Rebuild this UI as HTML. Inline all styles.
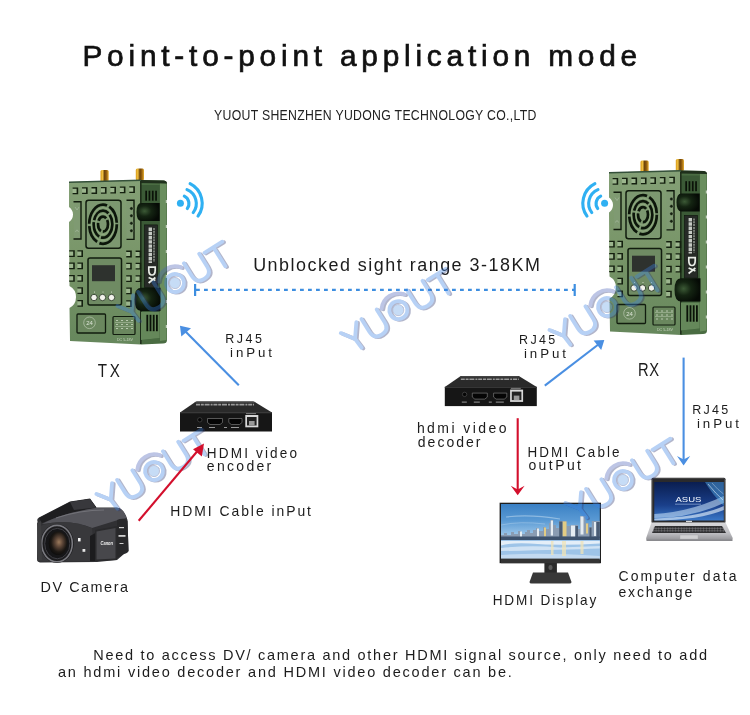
<!DOCTYPE html>
<html><head><meta charset="utf-8">
<style>
html,body{margin:0;padding:0;background:#fff;width:750px;height:715px;overflow:hidden}
svg{display:block;will-change:transform}
text{font-family:"Liberation Sans",sans-serif;fill:#1c1c1c}
</style></head>
<body>
<svg width="750" height="715" viewBox="0 0 750 715">
<defs>
<linearGradient id="camBody" x1="0" y1="0" x2="0" y2="1">
  <stop offset="0" stop-color="#5a5a5e"/><stop offset="0.35" stop-color="#3c3c40"/><stop offset="1" stop-color="#1e1e20"/>
</linearGradient>
<radialGradient id="lensG" cx="0.55" cy="0.45" r="0.6">
  <stop offset="0" stop-color="#9c7a5c"/><stop offset="0.35" stop-color="#5a4436"/><stop offset="0.7" stop-color="#1c1814"/><stop offset="1" stop-color="#0a0a0a"/>
</radialGradient>
<linearGradient id="scrSky" x1="0" y1="0" x2="0" y2="1">
  <stop offset="0" stop-color="#3a80c4"/><stop offset="0.3" stop-color="#5a9ad4"/><stop offset="0.55" stop-color="#98c4e8"/><stop offset="1" stop-color="#b0d4ee"/>
</linearGradient>
<linearGradient id="lapScr" x1="0" y1="0" x2="0" y2="1">
  <stop offset="0" stop-color="#0a1e50"/><stop offset="0.6" stop-color="#1a3f8a"/><stop offset="1" stop-color="#3a78c8"/>
</linearGradient>
<linearGradient id="lapBase" x1="0" y1="0" x2="0" y2="1">
  <stop offset="0" stop-color="#d8d8da"/><stop offset="0.6" stop-color="#bcbcc0"/><stop offset="1" stop-color="#8e8e92"/>
</linearGradient>

<g id="wmk" fill="none" stroke-linecap="round" stroke-linejoin="round" opacity="0.36">
  <g transform="translate(1.1,1.5)" stroke="#2c3670" stroke-width="3.8">
    <path id="wl" d="M-61,-11 L-52,1.5 L-42,-12 M-52,1.5 L-51,12.5 M-36,-12 L-36,3 Q-36,12 -27,12 Q-18,12 -18,3 L-18,-12 M18,-12 L18,3 Q18,12 27,12 Q36,12 36,3 L36,-12 M41,-10 L62,-10 M51.5,-10 L51.5,12.5"/>
    <circle cx="0" cy="0" r="9"/>
    <path d="M-13.5,-10 A17,17 0 0 1 13.5,-10"/>
  </g>
  <g stroke="#3a82e6" stroke-width="3.8">
    <path d="M-61,-11 L-52,1.5 L-42,-12 M-52,1.5 L-51,12.5 M-36,-12 L-36,3 Q-36,12 -27,12 Q-18,12 -18,3 L-18,-12 M18,-12 L18,3 Q18,12 27,12 Q36,12 36,3 L36,-12 M41,-10 L62,-10 M51.5,-10 L51.5,12.5"/>
    <circle cx="0" cy="0" r="9"/>
    <path d="M-13.5,-10 A17,17 0 0 1 13.5,-10" stroke="#4a62b8"/>
  </g>
  <circle cx="0" cy="0" r="5.6" fill="#64a0e8" stroke="#3a4a88" stroke-width="0.8"/>
</g>
<linearGradient id="faceG" x1="0" y1="0" x2="0" y2="1">
  <stop offset="0" stop-color="#84a076"/><stop offset="0.5" stop-color="#789568"/><stop offset="1" stop-color="#66875c"/>
</linearGradient>
<radialGradient id="cylG" cx="0.35" cy="0.45" r="0.65">
  <stop offset="0" stop-color="#3c5a36"/><stop offset="0.45" stop-color="#142412"/><stop offset="1" stop-color="#050a05"/>
</radialGradient>
<g id="slot"><rect x="0" y="0.6" width="5" height="5.6" fill="#9cb68e"/><path d="M0,0 H5.6 V6.8 H0 V5.5 H4 V1.3 H0 Z" fill="#14200f"/></g>
<linearGradient id="antG" x1="0" y1="0" x2="1" y2="0">
  <stop offset="0" stop-color="#d89a18"/><stop offset="0.25" stop-color="#f0c040"/><stop offset="0.5" stop-color="#6a4008"/><stop offset="0.75" stop-color="#9a6410"/><stop offset="1" stop-color="#e8b030"/>
</linearGradient>
</defs>
<rect width="750" height="715" fill="#fff"/>

<g id="dev">
  <!-- antennas -->
  <rect x="100.5" y="170" width="8.2" height="12" rx="1.5" fill="url(#antG)"/>
  <rect x="135.8" y="168.6" width="8.2" height="12" rx="1.5" fill="url(#antG)"/>
  <!-- side body -->
  <path d="M140,180 L164,180.5 Q167,181 167,184 L167,340 Q167,343.5 163,343.5 L141,344.5 Z" fill="#4a6c42"/>
  <path d="M141,185 L159.7,185 L159.7,338 L141,340 Z" fill="#3b5a36"/>
  <path d="M160,183 L166.5,183.5 L166.5,340 L160,341 Z" fill="#6a8e5e"/>
  <g fill="#dfe8da" opacity="0.8"><rect x="165.8" y="200" width="1.2" height="3"/><rect x="165.8" y="225" width="1.2" height="3"/><rect x="165.8" y="250" width="1.2" height="3"/><rect x="165.8" y="275" width="1.2" height="3"/><rect x="165.8" y="300" width="1.2" height="3"/><rect x="165.8" y="325" width="1.2" height="3"/></g>
  <path d="M140,180 L164,180.5 Q167,181 167,183.5 L140,183 Z" fill="#1f301c"/>
  <!-- front face with notches -->
  <path d="M69,182 L141,180 L141,344.5 L70,341 L69.5,308 Q76,304.5 76,297 Q76,289.5 69.5,286 L69,222 Q73,219 73,214.5 Q73,210 69,207 Z" fill="url(#faceG)"/>
  <path d="M69,181.5 L141,179.5 L141,181 L69,183 Z" fill="#34503a"/>
  <rect x="140" y="181" width="1.6" height="163" fill="#1e2e1a"/>
  <!-- top slots -->
  <use href="#slot" x="72.60" y="187.50"/><use href="#slot" x="82.05" y="187.30"/><use href="#slot" x="91.50" y="187.10"/><use href="#slot" x="100.95" y="186.90"/><use href="#slot" x="110.40" y="186.70"/><use href="#slot" x="119.85" y="186.50"/><use href="#slot" x="129.30" y="186.30"/>
  <!-- left small panel -->
  <rect x="74" y="201.2" width="7.5" height="38.4" fill="#7f9a72"/><path d="M73.5,201.8 H81 V239 H73.5" fill="none" stroke="#101a0c" stroke-width="1.4"/><path d="M75,207 L77,210 L79,207 M75.5,232 Q77,228 78.5,232" stroke="#b4c4ae" stroke-width="0.5" fill="none"/>
  <!-- fan box -->
  <rect x="86" y="200.2" width="35" height="48" rx="2.5" fill="#7c9870" stroke="#111c0e" stroke-width="1.5"/>
  <g fill="none" stroke="#0c160a" stroke-width="2.7">
    <ellipse cx="103" cy="224.2" rx="13.8" ry="19.6" stroke-dasharray="30 2.5 18 2.5"/>
    <ellipse cx="103" cy="224.2" rx="9.3" ry="13.5" stroke-dasharray="20 2 16 2"/>
    <ellipse cx="103" cy="224.2" rx="5" ry="7.5" stroke-dasharray="10 2 9 2"/>
  </g>
  <g fill="none" stroke="#a4c090" stroke-width="0.6" opacity="0.8">
    <ellipse cx="103" cy="224.2" rx="11.6" ry="16.6"/>
    <ellipse cx="103" cy="224.2" rx="7.2" ry="10.5"/>
  </g>
  <!-- right small panel with dots -->
  <rect x="126.5" y="199.6" width="8" height="40.4" fill="#7f9a72"/><path d="M126.5,200.3 H134 V239.4 H126.5" fill="none" stroke="#101a0c" stroke-width="1.4"/>
  <g fill="#142010" stroke="#9ab48c" stroke-width="0.4"><circle cx="131.4" cy="208.5" r="1.7"/><circle cx="131.4" cy="215.8" r="1.7"/><circle cx="131.4" cy="223.3" r="1.7"/><circle cx="131.4" cy="230.8" r="1.7"/></g>
  <!-- side top vents -->
  <g fill="#0a1208"><rect x="145.3" y="190.7" width="1.7" height="10"/><rect x="148.6" y="190.7" width="1.7" height="10"/><rect x="151.9" y="190.7" width="1.7" height="10"/><rect x="155.2" y="190.7" width="1.7" height="10"/></g>
  <!-- upper cylinder -->
  <path d="M141.5,203 L159.7,203 L159.7,221 L141.5,221 Q136.5,221 136.5,212 Q136.5,203 141.5,203 Z" fill="url(#cylG)"/>
  <!-- label plate -->
  <rect x="144.4" y="224.9" width="13.2" height="62.7" fill="#262a26" stroke="#0e160c" stroke-width="0.6"/>
  <line x1="150.3" y1="227.6" x2="150.3" y2="263" stroke="#c4c8c2" stroke-width="3.4" stroke-dasharray="3.4 0.8"/>
  <line x1="154" y1="228" x2="154" y2="262" stroke="#8c928a" stroke-width="1.6" stroke-dasharray="2 0.8"/>
  <path d="M148.8,267.2 H155.2 V270 Q155.2,275 152,275 Q148.8,275 148.8,270 Z" fill="none" stroke="#e8ece6" stroke-width="1.7"/>
  <path d="M148.6,277.5 L155.4,280.5 M148.6,283 L155.4,277.5" stroke="#e8ece6" stroke-width="1.7" fill="none"/>
  <!-- slot columns -->
  <use href="#slot" x="69.2" y="250.3"/><use href="#slot" x="77.4" y="250.3"/><use href="#slot" x="126.2" y="250.60000000000002"/><use href="#slot" x="135.6" y="250.60000000000002"/><use href="#slot" x="69.2" y="262.5"/><use href="#slot" x="77.4" y="262.5"/><use href="#slot" x="126.2" y="262.8"/><use href="#slot" x="135.6" y="262.8"/><use href="#slot" x="69.2" y="275.0"/><use href="#slot" x="77.4" y="275.0"/><use href="#slot" x="126.2" y="275.3"/><use href="#slot" x="135.6" y="275.3"/><use href="#slot" x="77.4" y="287.2"/><use href="#slot" x="126.2" y="287.5"/><use href="#slot" x="77.4" y="300.0"/><use href="#slot" x="126.2" y="300.3"/>
  <!-- screen box -->
  <rect x="88" y="258" width="33.5" height="47" rx="2" fill="#6f8b63" stroke="#111c0e" stroke-width="1.5"/>
  <rect x="92" y="265.2" width="23" height="16" fill="#2e322e"/>
  <g fill="#e6e8e0" font-size="2.5"><circle cx="94.5" cy="292" r="0.5"/><circle cx="103" cy="292" r="0.5"/><circle cx="111.5" cy="292" r="0.5"/></g>
  <g fill="#f2f2ec" stroke="#1a2916" stroke-width="0.8"><circle cx="94" cy="297.5" r="3.2"/><circle cx="102.5" cy="297.5" r="3.2"/><circle cx="111.5" cy="297.5" r="3.2"/></g>
  <!-- lower cylinder -->
  <path d="M141,287.7 L160.5,287.7 L160.5,311 L141,311 Q134.5,311 134.5,299.3 Q134.5,287.7 141,287.7 Z" fill="url(#cylG)"/>
  <!-- bottom side vents -->
  <path d="M141,312 L159.7,312 L159.7,338 L141,340 Z" fill="#65885a"/>
  <g fill="#0a1208"><rect x="146.4" y="314.8" width="1.8" height="16.4"/><rect x="149.6" y="314.8" width="1.8" height="16.4"/><rect x="152.8" y="314.8" width="1.8" height="16.4"/><rect x="156" y="314.8" width="1.8" height="16.4"/></g>
  <!-- bottom boxes -->
  <rect x="77" y="314" width="28.5" height="19" rx="1" fill="#6a875e" stroke="#111c0e" stroke-width="1.3"/>
  <circle cx="89.5" cy="322.8" r="5.8" fill="none" stroke="#c8d4c0" stroke-width="0.6"/>
  <text x="86.2" y="325.3" font-size="6" style="fill:#dce4d6">24</text>
  <rect x="113" y="316.5" width="22" height="18" rx="1" fill="#6a875e" stroke="#111c0e" stroke-width="1.2"/>
  <g fill="#b8c8ae"><rect x="116" y="320" width="2" height="1"/><rect x="121" y="320" width="2" height="1"/><rect x="126" y="320" width="2" height="1"/><rect x="131" y="320" width="2" height="1"/>
  <rect x="116" y="324" width="2" height="1"/><rect x="121" y="324" width="2" height="1"/><rect x="126" y="324" width="2" height="1"/><rect x="131" y="324" width="2" height="1"/>
  <rect x="116" y="328" width="2" height="1"/><rect x="121" y="328" width="2" height="1"/><rect x="126" y="328" width="2" height="1"/><rect x="131" y="328" width="2" height="1"/></g>
  <rect x="115" y="322" width="18" height="0.5" fill="#b8c8ae"/><rect x="115" y="326" width="18" height="0.5" fill="#b8c8ae"/>
  <text x="117" y="340.5" font-size="3.6" style="fill:#c8d4c0">DC 5-18V</text>
</g>
<use href="#dev" transform="translate(540,-9.5)"/>


<!-- wifi icons -->
<g id="wifi" fill="none" stroke="#2fb0f2" stroke-width="3.1" stroke-linecap="round">
  <circle cx="180.4" cy="203.3" r="3.5" fill="#2fb0f2" stroke="none"/>
  <path d="M184.3,196.2 A8.2,8.2 0 0 1 187.3,208.5"/>
  <path d="M187,189.6 A15,15 0 0 1 193.2,212.6"/>
  <path d="M190.1,183.6 A22,22 0 0 1 198,216.1"/>
</g>
<use href="#wifi" transform="translate(785,0) scale(-1,1)"/>
<!-- dashed range line -->
<g fill="#3d8ee0">
  <rect x="194" y="284" width="2.2" height="12"/>
  <rect x="573.6" y="284" width="2.2" height="12"/>
</g>
<line x1="196" y1="289.8" x2="574" y2="289.8" stroke="#3d8ee0" stroke-width="2.2" stroke-dasharray="3.8 4.2"/>
<!-- blue arrows -->
<g stroke="#4a8fe2" stroke-width="2.1" fill="#4a8fe2">
  <line x1="238.8" y1="385.2" x2="184" y2="330"/>
  <path d="M180,325.7 L191,328.3 L181.3,336.6 Z" stroke="none"/>
  <line x1="544.8" y1="385.6" x2="599" y2="344"/>
  <path d="M604.3,340 L593.6,340.6 L601.2,350 Z" stroke="none"/>
  <line x1="683.6" y1="357.6" x2="683.6" y2="460"/>
  <path d="M683.6,465.5 L677,456 L683.6,459.5 L690.2,456 Z" stroke="none"/>
</g>
<!-- encoder box -->
<g id="enc">
  <path d="M196,401.5 L254,401.5 L272,412.5 L180,412.5 Z" fill="#2a2a2a"/>
  <path d="M197,401.5 L253,401.5 L256,403 L194,403 Z" fill="#444"/>
  <line x1="196" y1="404.6" x2="254" y2="404.6" stroke="#9a9a9a" stroke-width="1.6" stroke-dasharray="4 0.8 3 0.8 5 1 2 0.8"/>
  <rect x="180" y="412.3" width="92" height="19.2" fill="#161616"/>
  <rect x="180" y="412.3" width="92" height="1" fill="#3a3a3a"/>
  <circle cx="199.8" cy="419.8" r="2.2" fill="#050505" stroke="#555" stroke-width="0.6"/>
  <path d="M207.5,418.5 L222.5,418.5 L222.5,422.5 L220,424.5 L210,424.5 L207.5,422.5 Z" fill="#050505" stroke="#8a8a8a" stroke-width="0.6"/>
  <path d="M228.8,418.5 L242,418.5 L242,422.5 L239.5,424.5 L231.3,424.5 L228.8,422.5 Z" fill="#050505" stroke="#8a8a8a" stroke-width="0.6"/>
  <rect x="245.3" y="415" width="13" height="12.3" fill="#d8d8d8"/>
  <rect x="247" y="417" width="9.6" height="8.5" fill="#222"/>
  <rect x="249" y="421" width="5.6" height="4.5" fill="#999"/>
  <g fill="#999"><rect x="197" y="427" width="5" height="1"/><rect x="209" y="427" width="6" height="1"/><rect x="224" y="427" width="3" height="1"/><rect x="231" y="427" width="8" height="1"/><rect x="246" y="413.3" width="10" height="0.8"/></g>
</g>
<use href="#enc" transform="translate(264.8,-25.4)"/>


<!-- camera -->
<g id="camera">
  <path d="M37.5,521 Q36.5,519 39,517.5 L70,501.5 L90,498.5 L96.5,507.5 L117,507.5 Q124,508.5 127.5,520 L128.5,551 Q128,553 124,554 L117,560 L97,562 L40,562.5 Q37,562 37,559 Z" fill="#303033"/>
  <path d="M39,518 L70,502 L90,499 L96,507 L60,516 L42,523 Z" fill="#1e1e20"/>
  <path d="M70,502 L90,499 L96,507.5 L74,510 Z" fill="#38383c"/>
  <path d="M42,524 Q62,513 96,508 L118,508 Q124,509 126.5,518 L118,520 L92,528 Q72,519 42,524 Z" fill="#55555b"/>
  <path d="M56,518 Q80,510 104,510" stroke="#7a7a80" stroke-width="0.8" fill="none"/>
  <path d="M40,526 Q64,517 92,528 L95,561 L40,561.5 Z" fill="#38383b"/>
  <path d="M90,536 L95.5,533 L95.5,561 L90,561 Z" fill="#1c1c1e"/>
  <path d="M95,530 L117,526 L117,560 L95,561 Z" fill="#2a2a2c"/>
  <path d="M96.5,531.5 L115.5,528 L115.5,558.5 L96.5,559.5 Z" fill="#47474b"/>
  <text x="100.5" y="545" font-size="5.5" textLength="12.5" lengthAdjust="spacingAndGlyphs" style="fill:#f0f0f0;font-style:italic;font-weight:bold">Canon</text>
  <path d="M117,520 Q124,517 127.5,521 L128.5,551 L117,558 Z" fill="#28282a"/>
  <g fill="#d0d0d0"><rect x="119" y="527" width="5" height="1.2"/><rect x="118.5" y="535" width="7" height="1.8"/><rect x="119.5" y="543" width="4" height="1"/></g>
  <rect x="78" y="538" width="2.6" height="3.4" fill="#f4f4f4"/>
  <rect x="82.5" y="549" width="2.8" height="2.8" fill="#e4e4e4"/>
  <ellipse cx="57" cy="543.6" rx="16.8" ry="19.4" fill="#1c1c1e"/>
  <ellipse cx="57" cy="543.6" rx="15.3" ry="18.2" fill="none" stroke="#7a7a80" stroke-width="1.6"/>
  <ellipse cx="57.3" cy="543.6" rx="12.6" ry="15.2" fill="#161618" stroke="#404046" stroke-width="1"/>
  <ellipse cx="58" cy="543.3" rx="9.3" ry="11.8" fill="url(#lensG)"/>
  <path d="M37,523 L41,521 L42,560 L37.5,561 Z" fill="#3e3e40"/>
</g>
<!-- monitor -->
<g id="monitor">
  <rect x="499.6" y="502.7" width="101.4" height="60.5" fill="#1e1e1e"/>
  <rect x="501" y="504" width="98.8" height="55.4" fill="url(#scrSky)"/>
  <path d="M506,517 Q530,514 560,519" stroke="#d8e8f6" stroke-width="1.2" fill="none" opacity="0.45"/>
  <path d="M501,525 Q520,521 545,524" stroke="#d8e8f6" stroke-width="0.9" fill="none" opacity="0.35"/>
  <path d="M501,540 L501,535 L504,535 L504,533 L507,533 L507,535 L511,535 L511,532 L514,532 L514,534 L518,534 L518,531 L521,531 L521,534 L525,534 L525,532 L527,532 L527,530 L530,530 L530,533 L533,533 L533,530 L536,530 L536,528 L539,528 L539,531 L543,531 L543,527 L546,527 L546,529 L549,529 L549,523 L550.5,523 L550.5,520 L553.3,520 L553.3,525 L556,525 L556,528 L559,528 L559,521 L566.5,521 L566.5,526 L570.5,526 L570.5,525 L578,525 L578,529 L580,529 L580,516 L585.5,516 L585.5,523 L589,523 L589,527 L591.8,527 L591.8,521 L599.8,521 L599.8,540 Z" fill="#8a9cb2"/>
  <g fill="#e4ecf2"><rect x="550.8" y="520.5" width="2.2" height="15"/><rect x="580.5" y="516.5" width="3" height="18"/><rect x="571" y="525.5" width="4" height="12"/><rect x="537" y="528.5" width="2" height="8"/><rect x="520" y="531.5" width="2" height="6"/><rect x="594" y="522" width="2" height="14"/></g>
  <g fill="#e2cc84"><rect x="562.5" y="521.5" width="4" height="15"/><rect x="544" y="527.5" width="2" height="9"/><rect x="586" y="523.5" width="2" height="10"/></g>
  <g fill="#4a5c74"><rect x="559.2" y="521.5" width="3.2" height="16"/><rect x="575.5" y="526" width="2.5" height="12"/><rect x="589.5" y="527.5" width="2" height="10"/><rect x="596.5" y="522" width="3.3" height="16"/></g>
  <rect x="501" y="536.5" width="98.8" height="3.5" fill="#3e536e"/>
  <rect x="501" y="540" width="98.8" height="19.4" fill="#9ec4e8"/>
  <path d="M501,541 L599.8,541 L599.8,543.5 Q560,546 530,543.5 Q512,542.5 501,545.5 Z" fill="#e4eef8"/>
  <path d="M501,548 Q530,545 560,547.5 L599.8,546 L599.8,548.5 Q560,550 501,551 Z" fill="#dceaf6" opacity="0.8"/>
  <path d="M501,555 Q540,552 599.8,556 L599.8,559.4 L501,559.4 Z" fill="#c6ddf2" opacity="0.9"/>
  <g fill="#f0e4b8" opacity="0.75"><rect x="551" y="541" width="2.5" height="14"/><rect x="562" y="541" width="4" height="15"/><rect x="580.5" y="541" width="3" height="13"/></g>
  <rect x="501" y="558.6" width="98.8" height="4.6" fill="#333"/>
  <rect x="544.4" y="563" width="12.5" height="12" fill="#2a2a2a"/>
  <rect x="548.5" y="565" width="4" height="5" rx="2" fill="#5a5a5a"/>
  <path d="M533,572.5 L568,572.5 L571.5,582 Q571.5,583.5 569.5,583.5 L531.5,583.5 Q529.5,583.5 529.5,582 Z" fill="#383838"/>
</g>
<!-- laptop -->
<g id="laptop">
  <rect x="651.5" y="477.8" width="74" height="45.5" rx="1.5" fill="#2a2a2c"/>
  <rect x="652.5" y="478.5" width="72" height="44" rx="1" fill="none" stroke="#555" stroke-width="0.6"/>
  <rect x="654.3" y="482" width="69.5" height="38.5" fill="url(#lapScr)"/>
  <path d="M654.3,514 Q690,512 723.8,496 L723.8,503 Q692,518 654.3,518 Z" fill="#cfe8fb" opacity="0.55"/>
  <path d="M654.3,518.5 Q700,517 723.8,506 L723.8,510 Q700,520 654.3,520.5 Z" fill="#eef8ff" opacity="0.6"/>
  <path d="M705,482 L723.8,482 L723.8,506 Q712,494 705,482 Z" fill="#5ab4f0" opacity="0.45"/>
  <path d="M708,484 Q716,494 723,500" stroke="#e6f4ff" stroke-width="0.8" fill="none" opacity="0.7"/>
  <path d="M712,483 Q718,490 723.5,494" stroke="#e6f4ff" stroke-width="0.6" fill="none" opacity="0.6"/>
  <text x="675.5" y="502" font-size="7.5" textLength="26" lengthAdjust="spacingAndGlyphs" style="fill:#f4f8ff">ASUS</text>
  <rect x="675" y="503.8" width="26" height="0.6" fill="#a8c4e8"/>
  <rect x="686" y="520.8" width="6" height="1.2" fill="#d8d8d8"/>
  <path d="M651.5,522.5 L725.5,522.5 L732.7,538 Q733,541 729,541 L649,541 Q645.8,541 646.2,538 Z" fill="url(#lapBase)"/>
  <path d="M655,526 L722,526 L726,533 L652,533 Z" fill="#303032"/>
  <g stroke="#8a8a8e" stroke-width="0.5"><line x1="654" y1="528.4" x2="724" y2="528.4"/><line x1="653" y1="530.8" x2="725" y2="530.8"/></g>
  <line x1="653" y1="529.5" x2="725" y2="529.5" stroke="#9a9a9e" stroke-width="4.5" stroke-dasharray="0.5 2.3" opacity="0.6"/>
  <rect x="680" y="535" width="18" height="4" fill="#d0d0d2" stroke="#a8a8ac" stroke-width="0.4"/>
  <rect x="646.5" y="539.5" width="86" height="1.5" fill="#8a8a8e"/>
</g>
<!-- TEXT -->


<g id="texts">
<text transform="translate(82.45,66) scale(1.0,1)" x="0" y="0" font-size="29.8" textLength="554.70" lengthAdjust="spacing" style="fill:#111;stroke:#111;stroke-width:0.7">Point-to-point application mode</text>
<text transform="translate(214.00,120) scale(0.86,1)" x="0" y="0" font-size="14.3" textLength="374.88" lengthAdjust="spacing" style="fill:#222">YUOUT SHENZHEN YUDONG TECHNOLOGY CO.,LTD</text>
<text transform="translate(253.15,271) scale(0.97,1)" x="0" y="0" font-size="18.5" textLength="295.62" lengthAdjust="spacing">Unblocked sight range 3-18KM</text>
<text transform="translate(225.25,342.8) scale(0.94,1)" x="0" y="0" font-size="13.3" textLength="39.04" lengthAdjust="spacing">RJ45</text>
<text transform="translate(230.05,356.7) scale(1.0,1)" x="0" y="0" font-size="13.3" textLength="41.95" lengthAdjust="spacing">inPut</text>
<text transform="translate(97.65,376.7) scale(0.82,1)" x="0" y="0" font-size="18.5" textLength="26.95" lengthAdjust="spacing">TX</text>
<text transform="translate(519.05,343.7) scale(0.94,1)" x="0" y="0" font-size="13.3" textLength="38.46" lengthAdjust="spacing">RJ45</text>
<text transform="translate(523.90,357.6) scale(1.0,1)" x="0" y="0" font-size="13.3" textLength="42.10" lengthAdjust="spacing">inPut</text>
<text transform="translate(638.10,375.8) scale(0.82,1)" x="0" y="0" font-size="18" textLength="25.49" lengthAdjust="spacing">RX</text>
<text transform="translate(692.25,413.6) scale(0.94,1)" x="0" y="0" font-size="13.3" textLength="38.24" lengthAdjust="spacing">RJ45</text>
<text transform="translate(696.90,427.8) scale(1.0,1)" x="0" y="0" font-size="13.3" textLength="42.10" lengthAdjust="spacing">inPut</text>
<text transform="translate(206.85,457.6) scale(0.97,1)" x="0" y="0" font-size="14" textLength="92.94" lengthAdjust="spacing">HDMI video</text>
<text transform="translate(206.85,471.2) scale(1.0,1)" x="0" y="0" font-size="14" textLength="64.40" lengthAdjust="spacing">encoder</text>
<text transform="translate(170.25,515.9) scale(0.96,1)" x="0" y="0" font-size="14.5" textLength="146.61" lengthAdjust="spacing">HDMI Cable inPut</text>
<text transform="translate(40.55,592) scale(0.96,1)" x="0" y="0" font-size="15" textLength="91.09" lengthAdjust="spacing">DV Camera</text>
<text transform="translate(416.90,433.1) scale(1.0,1)" x="0" y="0" font-size="14" textLength="89.65" lengthAdjust="spacing">hdmi video</text>
<text transform="translate(417.80,447.1) scale(1.0,1)" x="0" y="0" font-size="14" textLength="62.65" lengthAdjust="spacing">decoder</text>
<text transform="translate(527.50,456.6) scale(0.96,1)" x="0" y="0" font-size="14" textLength="95.94" lengthAdjust="spacing">HDMI Cable</text>
<text transform="translate(528.40,469.6) scale(1.0,1)" x="0" y="0" font-size="14" textLength="52.60" lengthAdjust="spacing">outPut</text>
<text transform="translate(492.65,605.4) scale(0.97,1)" x="0" y="0" font-size="14" textLength="106.80" lengthAdjust="spacing">HDMI Display</text>
<text transform="translate(618.40,581.3) scale(1.0,1)" x="0" y="0" font-size="14" textLength="118.05" lengthAdjust="spacing">Computer data</text>
<text transform="translate(618.40,597.4) scale(1.0,1)" x="0" y="0" font-size="14" textLength="73.80" lengthAdjust="spacing">exchange</text>
<text transform="translate(93.25,660.1) scale(1.0,1)" x="0" y="0" font-size="14.5" textLength="613.75" lengthAdjust="spacing">Need to access DV/ camera and other HDMI signal source, only need to add</text>
<text transform="translate(58.00,677.4) scale(1.0,1)" x="0" y="0" font-size="14.5" textLength="453.85" lengthAdjust="spacing">an hdmi video decoder and HDMI video decoder can be.</text>
</g>
<!-- watermarks -->
<g>
<use href="#wmk" transform="translate(398.3,310.1) rotate(-32)"/>
<use href="#wmk" transform="translate(175,283) rotate(-32)"/>
<use href="#wmk" transform="translate(607,307) rotate(-32)"/>
<use href="#wmk" transform="translate(154,471) rotate(-32)"/>
<use href="#wmk" transform="translate(623,480) rotate(-32)"/>
</g>
<!-- red arrows -->
<g stroke="#d30f2c" stroke-width="2.1" fill="#d30f2c">
  <line x1="138.7" y1="520.8" x2="200" y2="448"/>
  <path d="M204,443.5 L193,449.2 L201.8,456.6 Z" stroke="none"/>
  <line x1="517.7" y1="418.2" x2="517.7" y2="490"/>
  <path d="M517.7,495.2 L510.8,485.8 L517.7,489.5 L524.6,485.8 Z" stroke="none"/>
</g>
</svg>
</body></html>
